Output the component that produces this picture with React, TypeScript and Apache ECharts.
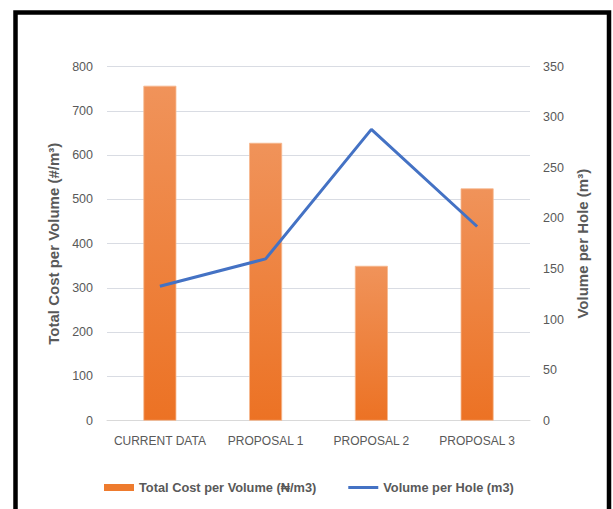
import React, { useEffect, useRef } from "react";
import * as echarts from "echarts";

const categories = ["CURRENT DATA", "PROPOSAL 1", "PROPOSAL 2", "PROPOSAL 3"];
const costPerVolume = [757, 628, 350, 525];
const volumePerHole = [133, 160, 288, 192];
const leftTicks = { min: 0, max: 800, interval: 100 };
const rightTicks = { min: 0, max: 350, interval: 50 };

const FONT = "'Liberation Sans', Arial, sans-serif";
const GREY = "#595959";

export default function App() {
  const ref = useRef<HTMLDivElement>(null);
  useEffect(() => {
    if (!ref.current) return;
    const chart = echarts.init(ref.current, null, { renderer: "svg" });
    chart.setOption({
      animation: false,
      backgroundColor: "#ffffff",
      textStyle: { fontFamily: FONT },
      grid: { left: 107, right: 83, top: 66.7, bottom: 88.3, containLabel: false },
      graphic: [
        {
          type: "rect",
          shape: { x: 15.5, y: 12.5, width: 593.5, height: 540 },
          style: { fill: "none", stroke: "#000000", lineWidth: 4.5 },
          z: 100,
        },
      ],
      legend: {
        top: 481,
        left: 104,
        padding: 0,
        itemGap: 32,
        itemWidth: 30,
        itemHeight: 7,
        textStyle: { color: GREY, fontSize: 12.8, fontWeight: "bold", fontFamily: FONT },
        data: [
          {
            name: "Total Cost per Volume (₦/m3)",
            icon: "rect",
            itemStyle: { color: "#EE7B2E", borderWidth: 0 },
          },
          {
            name: "Volume per Hole (m3)",
            icon: "path://M0,0 L30,0 L30,3 L0,3 Z",
          },
        ],
      },
      xAxis: {
        type: "category",
        data: categories,
        axisTick: { show: false },
        axisLine: { show: true, lineStyle: { color: "#d9d9d9", width: 1 } },
        axisLabel: { color: GREY, fontSize: 12, margin: 14, interval: 0, fontFamily: FONT },
      },
      yAxis: [
        {
          type: "value",
          min: leftTicks.min,
          max: leftTicks.max,
          interval: leftTicks.interval,
          name: "Total Cost per Volume (#/m³)",
          nameLocation: "middle",
          nameGap: 42,
          nameRotate: 90,
          nameTextStyle: { color: GREY, fontSize: 15, fontWeight: "bold", fontFamily: FONT },
          axisLabel: { color: GREY, fontSize: 12.5, margin: 14, fontFamily: FONT },
          axisLine: { show: false },
          axisTick: { show: false },
          splitLine: { lineStyle: { color: "#d9dce3", width: 1 } },
        },
        {
          type: "value",
          min: rightTicks.min,
          max: rightTicks.max,
          interval: rightTicks.interval,
          name: "Volume per Hole (m³)",
          nameLocation: "middle",
          nameGap: 42,
          nameRotate: 90,
          nameTextStyle: { color: GREY, fontSize: 15, fontWeight: "bold", fontFamily: FONT },
          axisLabel: { color: GREY, fontSize: 12.5, margin: 13, fontFamily: FONT },
          axisLine: { show: false },
          axisTick: { show: false },
          splitLine: { show: false },
        },
      ],
      series: [
        {
          name: "Total Cost per Volume (₦/m3)",
          type: "bar",
          yAxisIndex: 0,
          data: costPerVolume,
          barWidth: 33,
          itemStyle: {
            color: new echarts.graphic.LinearGradient(0, 0, 0, 1, [
              { offset: 0, color: "#F0935A" },
              { offset: 1, color: "#EC7224" },
            ]),
            borderColor: "#F6B88E",
            borderWidth: 0.8,
          },
        },
        {
          name: "Volume per Hole (m3)",
          type: "line",
          yAxisIndex: 1,
          data: volumePerHole,
          symbol: "none",
          lineStyle: { color: "#4472C4", width: 3 },
          itemStyle: { color: "#4472C4" },
        },
      ],
    });
    return () => chart.dispose();
  }, []);
  return (
    <div
      ref={ref}
      style={{ position: "absolute", left: 0, top: 0, width: 613, height: 509 }}
    />
  );
}
